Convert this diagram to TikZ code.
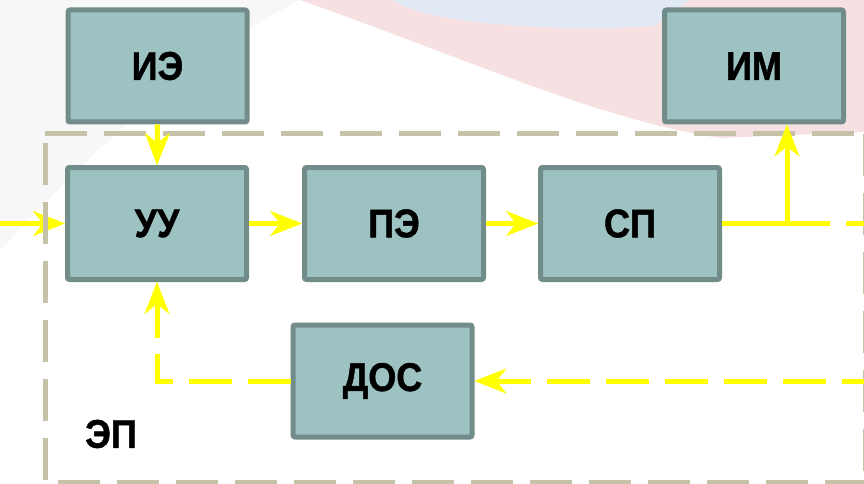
\documentclass[tikz,border=0pt]{standalone}
\usepackage{fontspec}
\setmainfont{Liberation Sans}
\newfontfamily\boxfont[FakeStretch=0.9,FakeBold=1.2]{Liberation Sans Bold}
\usetikzlibrary{arrows.meta}
\definecolor{boxfill}{HTML}{9CC3C1}
\definecolor{boxline}{HTML}{718C89}
\definecolor{framecol}{HTML}{C5C2A8}
\definecolor{arr}{HTML}{FFFF00}
\definecolor{wmpink}{HTML}{F7E0E2}
\definecolor{wmblue}{HTML}{E1E9F5}
\definecolor{wmgrey}{HTML}{F7F7F7}
\begin{document}
\begin{tikzpicture}[x=1pt,y=-1pt,
  block/.style={draw=boxline, fill=boxfill, line width=5pt, rounded corners=2pt,
    minimum width=179pt, minimum height=112pt, inner sep=0pt,
    font=\fontsize{40}{44}\boxfont},
  label/.style={inner sep=0pt, font=\fontsize{40}{44}\boxfont},
  wire/.style={draw=arr, line width=5pt},
  flow/.style={wire, -{Stealth[length=32pt,width=25pt,inset=10pt,line width=0.1pt]}},
  dashy/.style={dash pattern=on 43pt off 16pt},
  frm/.style={draw=framecol, line width=5pt, dash pattern=on 42pt off 17pt}
]
\useasboundingbox (0,0) rectangle (864,484);
\clip (0,0) rectangle (864,484);
% faint watermark
\fill[wmgrey] (0,0) -- (300,0) .. controls (220,40) and (120,120) .. (0,250) -- cycle;
\fill[wmpink] (300,0) -- (864,0) -- (864,132) -- (720,138)
   .. controls (600,120) and (470,60) .. (300,0) -- cycle;
\fill[wmblue] (392,0) .. controls (430,25) and (560,32) .. (655,26) -- (690,0) -- cycle;

% blocks
\node[block] (ie)  at (157.5,66)  {ИЭ};
\node[block] (im)  at (754,66)    {ИМ};
\node[block] (uu)  at (157,223.5) {УУ};
\node[block] (pe)  at (394,223.5) {ПЭ};
\node[block] (sp)  at (630,223.5) {СП};
\node[block] (dos) at (382.5,381) {ДОС};
\node[label] (ep)  at (111,434)   {ЭП};

% input arrow (below frame)
\coordinate (inL) at (-5,223.5);
\draw[flow] (inL) -- (uu.west);

% frame of ЭП
\draw[frm] (45,133.5) -- (872,133.5);
\draw[frm] (45,143) -- (45,492);
\draw[frm] (58,482) -- (872,482);
\draw[frm] (865,133.5) -- (865,492);

% connectors
\draw[flow] (ie.south) -- (uu.north);
\draw[flow] (uu.east) -- (pe.west);
\draw[flow] (pe.east) -- (sp.west);
\coordinate (br) at (787,223.5);
\coordinate (outR) at (890,223.5);
\draw[wire] (sp.east) -- (br);
\draw[wire, dashy] (br) -- (outR);
\draw[flow] (br) -- (br |- im.south);
\coordinate (fbR) at (885,381);
\draw[flow, dashy] (fbR) -- (dos.east);
\draw[flow, dashy] (dos.west) -| (uu.south);
\end{tikzpicture}
\end{document}
